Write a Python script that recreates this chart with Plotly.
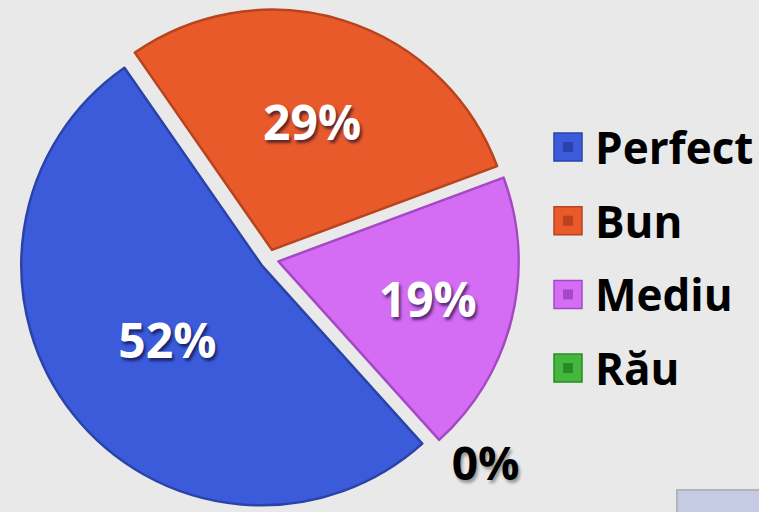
import plotly.graph_objects as go

categories = ["Perfect", "Bun", "Mediu", "Rău"]
values = [52, 29, 19, 0]
colors = ["#3b5bdb", "#e95a2b", "#d46cf4", "#44b83c"]
edge_colors = ["#2a43a8", "#b8431c", "#a548c4", "#2a8a26"]
edge_widths = [2.5, 2.5, 2.5, 0]
text_positions = ["inside", "inside", "inside", "outside"]

FONT = "'Open Sans', Lato, 'DejaVu Sans', sans-serif"

fig = go.Figure()
fig.add_trace(go.Pie(
    labels=categories,
    values=values,
    sort=False,
    direction="clockwise",
    rotation=138,
    pull=[0.04] * len(values),
    marker=dict(colors=colors, line=dict(color=edge_colors, width=edge_widths)),
    textinfo="percent",
    texttemplate="%{percent:.0%}",
    textposition=text_positions,
    insidetextorientation="horizontal",
    insidetextfont=dict(family=FONT, size=48, color="white", weight="bold",
                        shadow="2px 3px 3px rgba(0,0,40,0.6)"),
    outsidetextfont=dict(family=FONT, size=46, color="black", weight="bold",
                         shadow="2px 3px 3px rgba(0,0,0,0.35)"),
    domain=dict(x=[0.025, 0.684], y=[0.006, 0.982]),
    automargin=False,
    showlegend=False,
    hoverinfo="label+percent",
))

# Manual legend (large bevelled squares + bold labels)
shapes = []
annotations = []
W, H = 759, 512
for i, (name, col, edge) in enumerate(zip(categories, colors, edge_colors)):
    yc = 147 + 73.7 * i
    x0, x1 = 554, 582
    shapes.append(dict(type="rect", xref="paper", yref="paper",
                       x0=x0 / W, x1=x1 / W, y0=1 - (yc + 14) / H, y1=1 - (yc - 14) / H,
                       fillcolor=col, line=dict(color=edge, width=1.5)))
    shapes.append(dict(type="rect", xref="paper", yref="paper",
                       x0=(x0 + 9) / W, x1=(x1 - 9) / W, y0=1 - (yc + 5) / H, y1=1 - (yc - 5) / H,
                       fillcolor=edge, line=dict(width=0)))
    annotations.append(dict(text=name, xref="paper", yref="paper",
                            x=593 / W, y=1 - yc / H, xanchor="left", yanchor="middle",
                            showarrow=False,
                            font=dict(family=FONT, size=44, color="black", weight="bold")))

# bottom-right decorative box
shapes.append(dict(type="rect", xref="paper", yref="paper",
                   x0=677 / W, x1=1.01, y0=-0.01, y1=1 - 490 / H,
                   fillcolor="#c5cbe3", line=dict(color="#b4b4b4", width=2)))

fig.update_layout(
    width=759, height=512,
    margin=dict(l=0, r=0, t=0, b=0, autoexpand=False),
    paper_bgcolor="#e9e9e9",
    plot_bgcolor="#e9e9e9",
    shapes=shapes,
    annotations=annotations,
)

fig.write_html("out.html",
               config={"displayModeBar": False},
               post_script="document.body.style.margin='0';document.body.style.overflow='hidden';")
